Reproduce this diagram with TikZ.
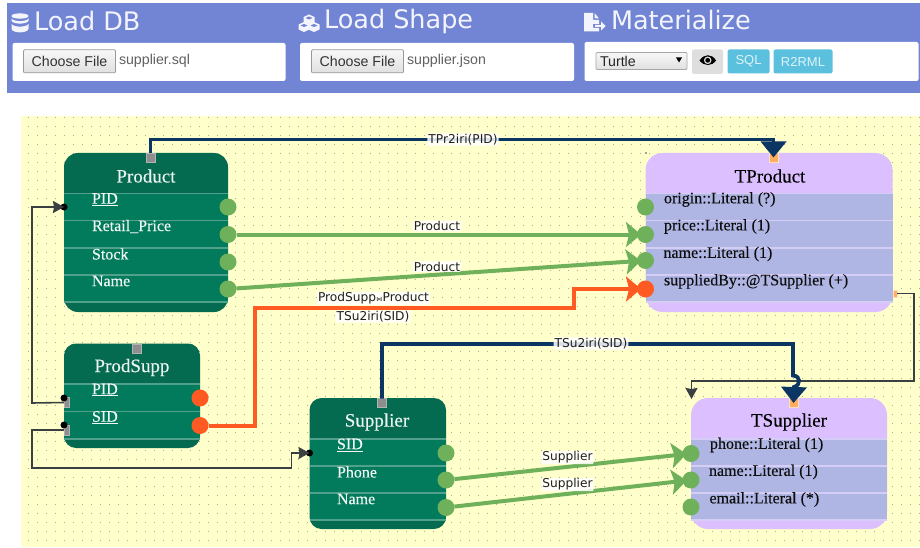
\documentclass[tikz,border=0pt]{standalone}
\usepackage{fontspec}
\usetikzlibrary{arrows.meta,calc}
\newfontfamily\serifx[FakeBold=0.2]{Liberation Serif}
\newfontfamily\sansx{Liberation Sans}
\newfontfamily\dejax{DejaVu Sans}
\definecolor{band}{HTML}{7185D4}
\definecolor{paper}{HTML}{FFFFCB}
\definecolor{srchead}{HTML}{046A50}
\definecolor{srcbody}{HTML}{027B5D}
\definecolor{srcline}{HTML}{50A08C}
\definecolor{tgthead}{HTML}{DBBFFF}
\definecolor{tgtbody}{HTML}{B0B6E4}
\definecolor{tgtline}{HTML}{D6CDF6}
\definecolor{pgreen}{HTML}{6FB05A}
\definecolor{porange}{HTML}{FF5A22}
\definecolor{navy}{HTML}{0B3563}
\definecolor{wire}{HTML}{3A3F42}
\definecolor{sqgray}{HTML}{8E8E8E}
\definecolor{sqorange}{HTML}{FFAE5E}
\definecolor{infoblue}{HTML}{5BC0DE}
\tikzset{
  x=1pt,y=-1pt,
  every node/.style={inner sep=0pt,outer sep=0pt},
  panel/.style={fill=white,rounded corners=2pt,anchor=north west},
  headtxt/.style={anchor=west,text=white!92!band,font=\dejax\fontsize{25.5}{28}\selectfont},
  filebtn/.style={anchor=north west,minimum width=92,minimum height=23,draw=black!40,line width=.7pt,
    top color=white!97!black,bottom color=black!12,rounded corners=1pt,text=black!80,font=\sansx\fontsize{14.2}{16}\selectfont},
  filetxt/.style={anchor=west,text=black!62,font=\sansx\fontsize{14.2}{16}\selectfont},
  infobtn/.style={anchor=north west,minimum height=24,fill=infoblue,rounded corners=2pt,text=white!80!infoblue,font=\sansx\fontsize{13}{15}\selectfont},
  srctab/.style={anchor=north west,fill=srchead,rounded corners=14pt},
  tgttab/.style={anchor=north west,fill=tgthead,rounded corners=17pt},
  srcrows/.style={anchor=north west,fill=srcbody},
  tgtrows/.style={anchor=north west,fill=tgtbody},
  srctitle/.style={text=white!93!srchead,font=\serifx\fontsize{19}{21}\selectfont},
  tgttitle/.style={text=black,font=\serifx\fontsize{19}{21}\selectfont},
  srcfield/.style={anchor=west,text=white!95!srchead,font=\serifx\fontsize{16}{18}\selectfont},
  tgtfield/.style={anchor=west,text=black!95,font=\serifx\fontsize{16}{18}\selectfont},
  srcsep/.style={draw=srcline,line width=1.1pt},
  tgtsep/.style={draw=tgtline,line width=1.4pt},
  greenport/.style={circle,fill=pgreen,minimum size=17},
  orangeport/.style={circle,fill=porange,minimum size=17},
  graysq/.style={fill=sqgray,draw=white!70!black,line width=.7pt,minimum size=9},
  graytab/.style={fill=sqgray,draw=white!70!black,line width=.7pt,minimum width=5,minimum height=10},
  orangesq/.style={fill=sqorange,draw=white!60!sqorange,line width=.5pt,minimum size=9},
  orangetab/.style={fill=sqorange,draw=white!60!sqorange,line width=.5pt,minimum width=4,minimum height=7},
  blackdot/.style={circle,fill=black,minimum size=7},
  edgelbl/.style={fill=white,fill opacity=.85,text opacity=1,rounded corners=1pt,inner xsep=1pt,inner ysep=.6pt,text=black!88,font=\dejax\fontsize{12.2}{14}\selectfont},
  greenedge/.style={draw=pgreen,line width=4pt,-{Stealth[length=15pt,width=25pt,inset=3pt]},shorten >=-4pt},
  orangeedge/.style={draw=porange,line width=4pt,-{Stealth[length=15pt,width=25pt,inset=3pt]},shorten >=-4pt},
  navyedge/.style={draw=navy,line width=3.8pt,-{Triangle[length=16pt,width=25pt]}},
  wireedge/.style={draw=wire,line width=1.6pt,-{Stealth[length=11pt,width=12pt,inset=1pt]}},
}
\begin{document}
\begin{tikzpicture}
\useasboundingbox (0,0) rectangle (920,548);
% header band
\fill[band] (7,3) rectangle (920,93.5);
\node[panel,minimum width=273,minimum height=38] (pdb) at (12.5,43) {};
\node[panel,minimum width=274,minimum height=38] (pshape) at (300,43) {};
\node[panel,minimum width=334,minimum height=39] (pmat) at (584.5,42) {};
\node[headtxt] (tdb) at (34,20.5) {Load DB};
\node[headtxt] (tshape) at (324,21) {Load Shape};
\node[headtxt] (tmat) at (611,19.5) {Materialize};
% database icon
\begin{scope}[white!92!band]
 \fill (11.5,16) .. controls (11.5,12.5) and (28.5,12.5) .. (28.5,16) .. controls (28.5,19.5) and (11.5,19.5) .. (11.5,16) -- cycle;
 \fill (11.5,18.5) .. controls (14,22) and (26,22) .. (28.5,18.5) -- (28.5,21) .. controls (26,24.5) and (14,24.5) .. (11.5,21) -- cycle;
 \fill (11.5,24) .. controls (14,27.5) and (26,27.5) .. (28.5,24) -- (28.5,29) .. controls (27,33.5) and (13,33.5) .. (11.5,29) -- cycle;
\end{scope}
% cubes icon
\begin{scope}[white!92!band]
 \fill (309,14.5) -- (314.5,17) -- (314.5,22) -- (309,24.5) -- (303.5,22) -- (303.5,17) -- cycle;
 \fill (304,22) -- (309.5,24.5) -- (309.5,29.5) -- (304,32) -- (298.5,29.5) -- (298.5,24.5) -- cycle;
 \fill (314,22) -- (319.5,24.5) -- (319.5,29.5) -- (314,32) -- (308.5,29.5) -- (308.5,24.5) -- cycle;
 \fill[band] (309,16.5) -- (312.5,18) -- (309,19.5) -- (305.5,18) -- cycle;
 \fill[band] (304,24) -- (307.5,25.5) -- (304,27) -- (300.5,25.5) -- cycle;
 \fill[band] (314,24) -- (317.5,25.5) -- (314,27) -- (310.5,25.5) -- cycle;
\end{scope}
% export icon
\begin{scope}[white!92!band]
 \fill (584,13) -- (593,13) -- (593,20) -- (599,20) -- (599,24) -- (593,24) -- (593,28) -- (599,28) -- (599,31.5) -- (584,31.5) -- cycle;
 \fill (594.5,13) -- (599,18.5) -- (594.5,18.5) -- cycle;
 \fill (595,25) -- (601,25) -- (601,21.5) -- (605.5,26) -- (601,30.5) -- (601,27) -- (595,27) -- cycle;
\end{scope}
% form controls
\node[filebtn] (b1) at (23.5,49.8) {Choose File};
\node[filetxt] (f1) at (119,60.8) {supplier.sql};
\node[filebtn] (b2) at (311.5,49.8) {Choose File};
\node[filetxt] (f2) at (407,60.8) {supplier.json};
\node[anchor=north west,minimum width=91,minimum height=17,draw=black!35,line width=.7pt,top color=white!97!black,bottom color=black!12,rounded corners=1pt] (sel) at (596,52.5) {};
\node[anchor=west,text=black!85,font=\sansx\fontsize{14.2}{16}\selectfont] (turtle) at (600,61) {Turtle};
\fill[black] (676,57.5) -- (682,57.5) -- (679,62.5) -- cycle;
\node[anchor=north west,minimum width=31,minimum height=24.5,fill=black!13,rounded corners=2pt] (eye) at (692,49.5) {};
\fill[black] (699.5,60.5) .. controls (704,53.5) and (712,53.5) .. (716,60.5) .. controls (712,66.5) and (704,66.5) .. (699.5,60.5) -- cycle;
\fill[black!13] (707.7,60.3) circle[radius=3.8];
\fill[black] (707.7,60.3) circle[radius=2.4];
\node[infobtn,minimum width=42] (sql) at (727.5,49.5) {SQL};
\node[infobtn,minimum width=59] (r2) at (773.5,49.5) {R2RML};
% diagram paper
\fill[paper] (21,116) rectangle (920,547);
\foreach \i in {0,...,99} \foreach \j in {0,...,47}
  \fill[paper!68!black] ({28+9*\i-.35},{117+9*\j-.35}) rectangle ++(.7,.7);
\fill[black!70] (646,153) circle[radius=.9];
% source tables
\node[srctab,minimum width=164,minimum height=159] (product) at (64,153) {};
\node[srcrows,minimum width=164,minimum height=109] (productrows) at (64,193) {};
\node[srctitle] (producttitle) at (146,176) {Product};
\node[srctab,minimum width=136,minimum height=104.5,rounded corners=12pt] (prodsupp) at (64,343.5) {};
\node[srcrows,minimum width=136,minimum height=55] (prodsupprows) at (64,384) {};
\node[srctitle] (prodsupptitle) at (132,367.5) {ProdSupp};
\node[srctab,minimum width=136.5,minimum height=131,rounded corners=12pt] (supplier) at (309.5,398) {};
\node[srcrows,minimum width=136.5,minimum height=81] (supplierrows) at (309.5,439) {};
\node[srctitle] (suppliertitle) at (377,422) {Supplier};
\foreach \y in {193.5,220.5,248,275,302} \draw[srcsep] (64,\y) -- (228,\y);
\foreach \y in {384,411.5,439} \draw[srcsep] (64,\y) -- (200,\y);
\foreach \y in {439,466,493,520} \draw[srcsep] (309.5,\y) -- (446,\y);
\node[srcfield] (f11) at (92,199.5) {\underline{PID}};
\node[srcfield] (f12) at (92,226.5) {Retail\_Price};
\node[srcfield] (f13) at (92,254) {Stock};
\node[srcfield] (f14) at (92,281) {Name};
\node[srcfield] (f21) at (92,390) {\underline{PID}};
\node[srcfield] (f22) at (92,417.5) {\underline{SID}};
\node[srcfield] (f31) at (337,445) {\underline{SID}};
\node[srcfield] (f32) at (337,472) {Phone};
\node[srcfield] (f33) at (337,499) {Name};
% target tables
\node[tgttab,minimum width=247,minimum height=159] (tproduct) at (645.5,153) {};
\node[tgtrows,minimum width=247,minimum height=109] (tproductrows) at (645.5,193.5) {};
\node[tgttitle] (tproducttitle) at (770,176) {TProduct};
\node[tgttab,minimum width=196,minimum height=131] (tsupplier) at (691,398) {};
\node[tgtrows,minimum width=196,minimum height=81] (tsupplierrows) at (691,439) {};
\node[tgttitle] (tsuppliertitle) at (789,422) {TSupplier};
\foreach \y in {193.5,220.5,248,275,302} \draw[tgtsep] (645.5,\y) -- (892.5,\y);
\foreach \y in {439,466,493,520} \draw[tgtsep] (691,\y) -- (887,\y);
\node[tgtfield] (g11) at (664,199.5) {origin::Literal (?)};
\node[tgtfield] (g12) at (664,226.5) {price::Literal (1)};
\node[tgtfield] (g13) at (663.5,254) {name::Literal (1)};
\node[tgtfield] (g14) at (664,281.5) {suppliedBy::@TSupplier (+)};
\node[tgtfield] (g21) at (710,445) {phone::Literal (1)};
\node[tgtfield] (g22) at (709,472) {name::Literal (1)};
\node[tgtfield] (g23) at (709.5,499.5) {email::Literal (*)};
% squares and ports
\node[graysq] (sqproduct) at (150.5,157.5) {};
\node[graysq] (sqprodsupp) at (137,348.5) {};
\node[graysq] (sqsupplier) at (382,403) {};
\node[orangesq] (sqtproduct) at (773.5,157.5) {};
\node[orangesq] (sqtsupplier) at (793.5,403) {};
\node[orangetab] (tabtproduct) at (895,293.5) {};
\node[graytab] (tabpid) at (66.5,402.5) {};
\node[graytab] (tabsid) at (66.5,430) {};
\node[blackdot] (dpid) at (64,398) {};
\node[blackdot] (dsid) at (64,425) {};
\node[blackdot] (dproduct) at (64,207) {};
\node[blackdot] (dsupplier) at (309.5,453) {};
\node[greenport] (p1) at (228,207) {};
\node[greenport] (p2) at (228,234.5) {};
\node[greenport] (p3) at (228,262) {};
\node[greenport] (p4) at (228,289) {};
\node[orangeport] (s1) at (200,398) {};
\node[orangeport] (s2) at (200,425.5) {};
\node[greenport] (u1) at (446,453) {};
\node[greenport] (u2) at (446,480) {};
\node[greenport] (u3) at (446,507.5) {};
\node[greenport] (t1) at (645.5,207) {};
\node[greenport] (t2) at (645.5,234.5) {};
\node[greenport] (t3) at (645.5,260.5) {};
\node[orangeport] (t4) at (645.5,289) {};
\node[greenport] (v1) at (691,453.5) {};
\node[greenport] (v2) at (691,480) {};
\node[greenport] (v3) at (691,507) {};
% connectors
\coordinate (a1) at (32,403);
\coordinate (a2) at (32,207);
\draw[wireedge] (tabpid.west) -- (a1) -- (a2) -- (dproduct.center);
\coordinate (b1c) at (32,430);
\coordinate (b2c) at (32,468);
\coordinate (b3c) at (291.5,468);
\coordinate (b4c) at (291.5,453);
\draw[wireedge] (tabsid.west) -- (b1c) -- (b2c) -- (b3c) -- (b4c) -- (dsupplier.center);
\coordinate (c1) at (914,293.5);
\coordinate (c2) at (914,381);
\coordinate (c3) at (691.5,381);
\coordinate (c4) at (691.5,398);
\draw[wireedge,shorten >=-1pt] (tabtproduct.east) -- (c1) -- (c2) -- (c3) -- (c4);
\draw[greenedge] (p2) -- (t2);
\draw[greenedge] (p4) -- (t3);
\draw[greenedge] (u2) -- (v1);
\draw[greenedge] (u3) -- (v2);
\coordinate (o1) at (255,425.5);
\coordinate (o2) at (255,307.5);
\coordinate (o3) at (573.5,307.5);
\coordinate (o4) at (573.5,289);
\draw[orangeedge] (s2) -- (o1) -- (o2) -- (o3) -- (o4) -- (t4);
\coordinate (n1) at (150.5,139.5);
\coordinate (n2) at (773.5,139.5);
\draw[navyedge] (sqproduct.north) -- (n1) -- (n2) -- (sqtproduct.center);
\coordinate (m1) at (382,344);
\coordinate (m2) at (793,344);
\coordinate (m3) at (793,375.5);
\coordinate (m4) at (794,387);
\draw[navyedge] (sqsupplier.north) -- (m1) -- (m2) -- (m3) .. controls (801,376) and (801,385) .. (m4) -- (sqtsupplier.center);
% edge labels
\node[edgelbl] (l1) at (463,139.5) {TPr2iri(PID)};
\node[edgelbl] (l2) at (437,226) {Product};
\node[edgelbl] (l3) at (437,266.5) {Product};
\node[edgelbl] (l4) at (373.5,298.5) {ProdSupp\kern.3pt{\fontsize{6}{7}\selectfont\raisebox{.3pt}{⋈}}\kern.3ptProduct};
\node[edgelbl] (l5) at (373,316.5) {TSu2iri(SID)};
\node[edgelbl] (l6) at (591,343.5) {TSu2iri(SID)};
\node[edgelbl] (l7) at (567.5,457.5) {Supplier};
\node[edgelbl] (l8) at (567.5,484.5) {Supplier};
\end{tikzpicture}
\end{document}
